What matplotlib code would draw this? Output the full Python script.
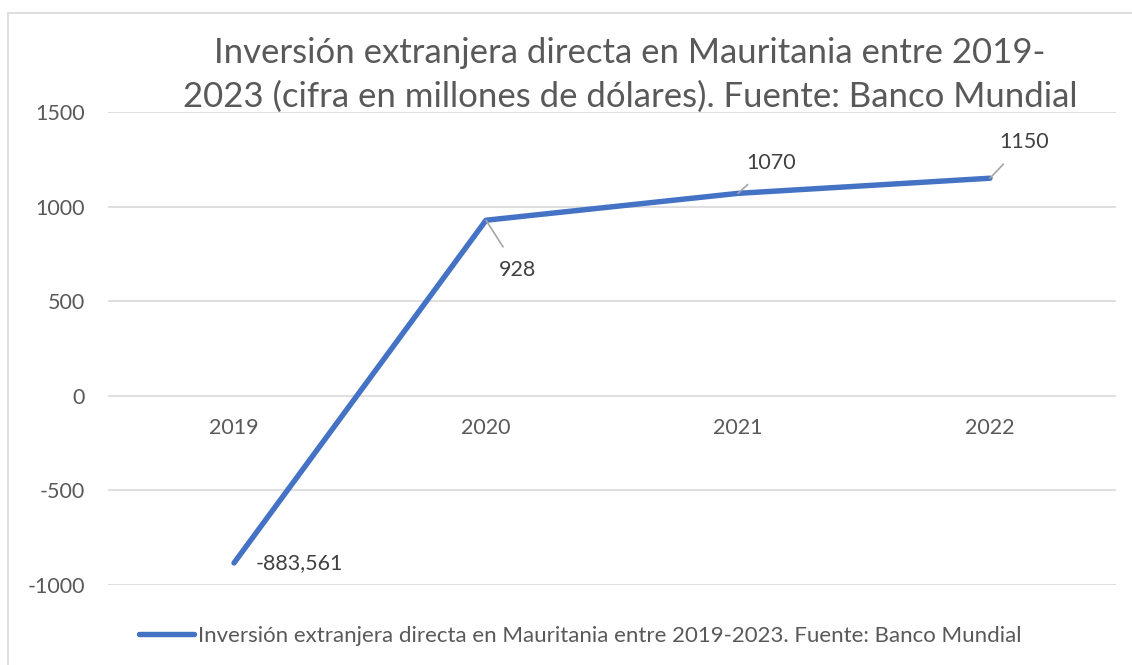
import matplotlib
matplotlib.use('Agg')
import matplotlib.pyplot as plt
from matplotlib.patches import Rectangle

plt.rcParams['font.family'] = ['Lato', 'DejaVu Sans']

# data
years = ['2019', '2020', '2021', '2022']
ied = [-883.561, 928, 1070, 1150]
labels = ['-883,561', '928', '1070', '1150']
yticks = [-1000, -500, 0, 500, 1000, 1500]

title = ('Inversión extranjera directa en Mauritania entre 2019-\n'
         '2023 (cifra en millones de dólares). Fuente: Banco Mundial')
serie = 'Inversión extranjera directa en Mauritania entre 2019-2023. Fuente: Banco Mundial'

blue = '#4472C4'
grey_txt = '#595959'
lbl_txt = '#404040'

W, H = 1132, 665
fig = plt.figure(figsize=(W / 100, H / 100), dpi=100)

# chart frame (only top/left edges show in the crop)
fig.patches.append(Rectangle((8 / W, -0.1), 1.2, 1 - 13 / H + 0.1,
                             transform=fig.transFigure, fill=False,
                             edgecolor='#D9D9D9', linewidth=1.2))

ax = fig.add_axes([108 / W, 1 - 585 / H, (1116 - 108) / W, (585 - 112) / H])
x = range(len(years))
ax.plot(x, ied, color=blue, linewidth=3.9, solid_capstyle='round', zorder=3,
        label=serie)

ax.set_xlim(-0.5, 3.5)
ax.set_ylim(-1000, 1500)
ax.set_yticks(yticks)
ax.set_yticklabels([str(v) for v in yticks])
ax.yaxis.grid(True, color='#D9D9D9', linewidth=1.2)
ax.set_axisbelow(True)
for s in ax.spines.values():
    s.set_visible(False)
ax.tick_params(axis='y', length=0, pad=16.5, labelsize=15.5, labelcolor=grey_txt)

ax.set_xticks([])
for i, yr in enumerate(years):
    ax.annotate(yr, (i, 0), xytext=(0, -32), textcoords='offset pixels',
                ha='center', va='center', fontsize=15.5, color=grey_txt)

# data labels with leader lines (offsets in pixels)
offs = [(0, 0), (32, -50), (33, 30), (34, 36)]
leaders = [False, True, True, True]
for i, (v, t) in enumerate(zip(ied, labels)):
    dx, dy = offs[i]
    if leaders[i]:
        ax.annotate(t, (i, v), xytext=(dx, dy), textcoords='offset pixels',
                    ha='center', va='center', fontsize=15.5, color=lbl_txt,
                    arrowprops=dict(arrowstyle='-', color='#A6A6A6', lw=1.2,
                                    shrinkA=9, shrinkB=0))
    else:
        ax.annotate(t, (i, v), xytext=(22, 0), textcoords='offset pixels',
                    ha='left', va='center', fontsize=15.5, color=lbl_txt)

fig.text(630 / W, 1 - 75 / H, title, ha='center', va='center', fontsize=25,
         color=grey_txt, linespacing=1.43)

fig.legend(loc='center', bbox_to_anchor=(580 / W, 1 - 636 / H), frameon=False,
           fontsize=16, labelcolor=grey_txt, handlelength=2.5, handletextpad=0.15)

fig.savefig('out.png', dpi=100)
